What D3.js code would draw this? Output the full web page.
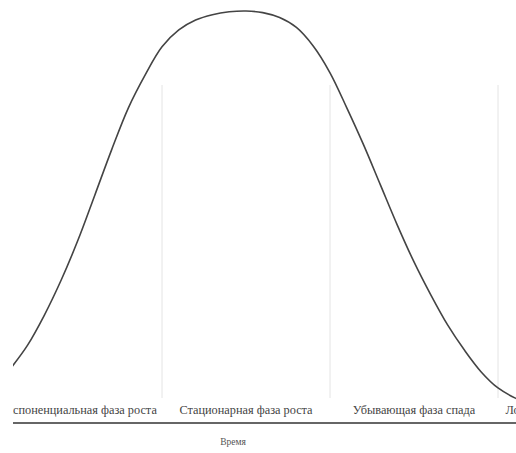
<!DOCTYPE html>
<html>
<head>
<meta charset="utf-8">
<script src="https://cdn.jsdelivr.net/npm/d3@7"></script>
<style>
  body { margin: 0; background: #fff; }
  svg { display: block; }
</style>
</head>
<body>
<div id="chart"></div>
<script>
// time steps and curve values
const times = d3.range(0, 32);
const values = [13.3, 18.9, 26.2, 34.7, 44.4, 55.3, 66.3, 76.5, 84.5, 91.3,
  95.4, 97.8, 99.1, 99.8, 100, 99.6, 98.4, 96.0, 91.5, 85.0,
  76.5, 67.5, 57.8, 48.1, 39.1, 31.1, 23.8, 17.7, 12.4, 8.5, 6.1, 4.4];

// phases: start/end on the time axis
const phaseNames = ["Экспоненциальная фаза роста", "Стационарная фаза роста", "Убывающая фаза спада", "Логарифмическая фаза спада"];
const phaseStart = [-1, 9, 19, 29];
const phaseEnd = [9, 19, 29, 39];

const xTitle = "Время";

const width = 516;
const height = 453;
const left = 13;
const axisY = 423;

const x = d3.scaleLinear().domain([0, 30]).range([10.8, 514.8]);
const y = d3.scaleLinear().domain([0, 100]).range([axisY, 11]);

const svg = d3.select("#chart")
  .append("svg")
  .attr("width", width)
  .attr("height", height);

svg.append("clipPath")
  .attr("id", "clip")
  .append("rect")
  .attr("x", left)
  .attr("y", 0)
  .attr("width", width - left)
  .attr("height", height);

const plot = svg.append("g").attr("clip-path", "url(#clip)");

// phase separators
plot.selectAll("line.sep")
  .data(phaseStart)
  .join("line")
  .attr("class", "sep")
  .attr("x1", d => x(d))
  .attr("x2", d => x(d))
  .attr("y1", 85)
  .attr("y2", 398)
  .attr("stroke", "#e4e4e4")
  .attr("stroke-width", 1);

// phase labels
plot.selectAll("text.phase")
  .data(phaseNames)
  .join("text")
  .attr("class", "phase")
  .attr("x", (d, i) => x((phaseStart[i] + phaseEnd[i]) / 2))
  .attr("y", 414)
  .attr("text-anchor", "middle")
  .attr("fill", "#444")
  .style("font-family", "'Liberation Serif', 'DejaVu Serif', serif")
  .style("font-size", "12.3px")
  .text(d => d);

// curve
const line = d3.line()
  .x((d, i) => x(times[i]))
  .y(d => y(d))
  .curve(d3.curveCatmullRom);

plot.append("path")
  .datum(values)
  .attr("d", line)
  .attr("fill", "none")
  .attr("stroke", "#444")
  .attr("stroke-width", 1.6);

// axis line
svg.append("line")
  .attr("x1", left)
  .attr("x2", width)
  .attr("y1", axisY)
  .attr("y2", axisY)
  .attr("stroke", "#666")
  .attr("stroke-width", 2);

svg.append("text")
  .attr("x", 233)
  .attr("y", 445)
  .attr("text-anchor", "middle")
  .attr("fill", "#555")
  .style("font-family", "'Liberation Serif', 'DejaVu Serif', serif")
  .style("font-size", "9.5px")
  .text(xTitle);
</script>
</body>
</html>
